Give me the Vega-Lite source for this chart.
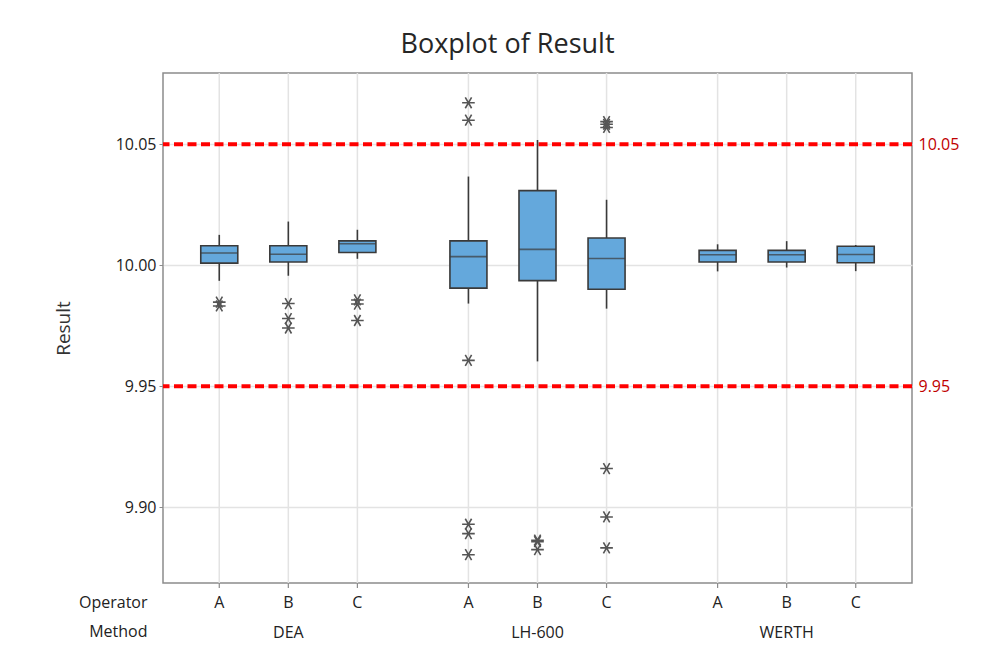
{
  "$schema": "https://vega.github.io/schema/vega-lite/v6.json",
  "width": 749,
  "height": 510,
  "autosize": {"type": "none"},
  "padding": {"left": 163, "top": 73, "right": 90, "bottom": 83},
  "background": "white",
  "title": {"text": "Boxplot of Result", "fontSize": 27, "fontWeight": "normal", "color": "#262626", "offset": 13, "dx": -30, "font": "Open Sans"},
  "datasets": {
    "boxes": [
      {"Method": "DEA", "Operator": "A", "lower": 9.9936, "q1": 10.0009, "median": 10.0051, "q3": 10.0081, "upper": 10.0126},
      {"Method": "DEA", "Operator": "B", "lower": 9.9957, "q1": 10.0014, "median": 10.0046, "q3": 10.0081, "upper": 10.0181},
      {"Method": "DEA", "Operator": "C", "lower": 10.0027, "q1": 10.0053, "median": 10.0089, "q3": 10.0101, "upper": 10.0147},
      {"Method": "LH-600", "Operator": "A", "lower": 9.9842, "q1": 9.9906, "median": 10.0036, "q3": 10.0101, "upper": 10.0367},
      {"Method": "LH-600", "Operator": "B", "lower": 9.9603, "q1": 9.9937, "median": 10.0066, "q3": 10.0309, "upper": 10.0518},
      {"Method": "LH-600", "Operator": "C", "lower": 9.9821, "q1": 9.9901, "median": 10.0028, "q3": 10.0113, "upper": 10.0271},
      {"Method": "WERTH", "Operator": "A", "lower": 9.9975, "q1": 10.0014, "median": 10.0044, "q3": 10.0062, "upper": 10.0087},
      {"Method": "WERTH", "Operator": "B", "lower": 9.9991, "q1": 10.0014, "median": 10.0044, "q3": 10.0062, "upper": 10.0100},
      {"Method": "WERTH", "Operator": "C", "lower": 9.9976, "q1": 10.0011, "median": 10.0045, "q3": 10.0079, "upper": 10.0084}
    ],
    "outliers": [
      {"Method": "DEA", "Operator": "A", "Result": 9.9848},
      {"Method": "DEA", "Operator": "A", "Result": 9.9832},
      {"Method": "DEA", "Operator": "B", "Result": 9.9842},
      {"Method": "DEA", "Operator": "B", "Result": 9.9780},
      {"Method": "DEA", "Operator": "B", "Result": 9.9741},
      {"Method": "DEA", "Operator": "C", "Result": 9.9857},
      {"Method": "DEA", "Operator": "C", "Result": 9.9840},
      {"Method": "DEA", "Operator": "C", "Result": 9.9772},
      {"Method": "LH-600", "Operator": "A", "Result": 10.0672},
      {"Method": "LH-600", "Operator": "A", "Result": 10.0600},
      {"Method": "LH-600", "Operator": "A", "Result": 9.9607},
      {"Method": "LH-600", "Operator": "A", "Result": 9.8930},
      {"Method": "LH-600", "Operator": "A", "Result": 9.8891},
      {"Method": "LH-600", "Operator": "A", "Result": 9.8804},
      {"Method": "LH-600", "Operator": "B", "Result": 9.8864},
      {"Method": "LH-600", "Operator": "B", "Result": 9.8858},
      {"Method": "LH-600", "Operator": "B", "Result": 9.8825},
      {"Method": "LH-600", "Operator": "C", "Result": 10.0594},
      {"Method": "LH-600", "Operator": "C", "Result": 10.0583},
      {"Method": "LH-600", "Operator": "C", "Result": 10.0570},
      {"Method": "LH-600", "Operator": "C", "Result": 9.9160},
      {"Method": "LH-600", "Operator": "C", "Result": 9.8960},
      {"Method": "LH-600", "Operator": "C", "Result": 9.8832}
    ],
    "limits": [
      {"limit": 9.95},
      {"limit": 10.05}
    ]
  },
  "layer": [
    {
      "data": {"name": "boxes"},
      "mark": {"type": "rule", "color": "#e3e3e3", "strokeWidth": 1.5},
      "encoding": {
        "x": {"field": "Method", "type": "nominal", "sort": ["DEA", "LH-600", "WERTH"],
          "scale": {"paddingInner": 0, "paddingOuter": 0.003},
          "axis": {"title": ["Operator", "Method"], "labelAngle": 0, "labelFontSize": 16, "labelColor": "#222222", "labelPadding": 41, "ticks": false, "domain": false, "grid": false,
            "titleFontSize": 16, "titleFontWeight": "normal", "titleColor": "#222222", "titleX": -16, "titleY": 11, "titleAlign": "right", "titleBaseline": "top", "titleLineHeight": 29, "titleAngle": 0}},
        "xOffset": {"field": "Operator", "type": "nominal", "sort": ["A", "B", "C"], "scale": {"paddingInner": 0.464, "paddingOuter": 0.536}}
      }
    },
    {
      "data": {"name": "limits"},
      "mark": {"type": "rule", "color": "#ff0000", "strokeWidth": 4, "strokeDash": [9, 4.5]},
      "encoding": {
        "y": {"field": "limit", "type": "quantitative",
          "scale": {"domain": [9.8687, 10.0795], "nice": false, "zero": false},
          "axis": {"orient": "right", "values": [9.95, 10.05], "format": ".2f", "labelColor": "#c00000", "labelFontSize": 16, "ticks": false, "domain": false, "grid": false, "labelPadding": 6, "title": null}}
      }
    },
    {
      "layer": [
        {
          "data": {"name": "boxes"},
          "mark": {"type": "rule", "color": "#8c8c8c", "strokeWidth": 1.2, "y2Offset": 5},
          "encoding": {
            "x": {"field": "Method", "type": "nominal", "sort": ["DEA", "LH-600", "WERTH"]},
            "xOffset": {"field": "Operator", "type": "nominal", "sort": ["A", "B", "C"]},
            "y": {"value": "height"},
            "y2": {"value": "height"}
          }
        },
        {
          "data": {"name": "boxes"},
          "mark": {"type": "rule", "color": "#3a3a3a", "strokeWidth": 1.6},
          "encoding": {
            "x": {"field": "Method", "type": "nominal", "sort": ["DEA", "LH-600", "WERTH"]},
            "xOffset": {"field": "Operator", "type": "nominal", "sort": ["A", "B", "C"]},
            "y": {"field": "lower", "type": "quantitative", "title": "Result",
              "scale": {"domain": [9.8687, 10.0795], "nice": false, "zero": false},
              "axis": {"values": [9.90, 9.95, 10.00, 10.05], "format": ".2f", "labelFontSize": 16, "labelColor": "#222222", "tickColor": "#8c8c8c", "tickSize": 4, "labelPadding": 3, "domain": false, "grid": true, "gridColor": "#e3e3e3", "gridWidth": 1.5,
                "title": "Result", "titleFontSize": 19, "titleFontWeight": "normal", "titleColor": "#333333", "titlePadding": 42}},
            "y2": {"field": "upper"}
          }
        },
        {
          "data": {"name": "boxes"},
          "mark": {"type": "bar", "fill": "#64a8dc", "stroke": "#3a3a3a", "strokeWidth": 1.6},
          "encoding": {
            "x": {"field": "Method", "type": "nominal", "sort": ["DEA", "LH-600", "WERTH"]},
            "xOffset": {"field": "Operator", "type": "nominal", "sort": ["A", "B", "C"]},
            "y": {"field": "q1", "type": "quantitative", "title": "Result"},
            "y2": {"field": "q3"}
          }
        },
        {
          "data": {"name": "boxes"},
          "mark": {"type": "tick", "color": "#3a3a3a", "thickness": 1.6, "size": 37},
          "encoding": {
            "x": {"field": "Method", "type": "nominal", "sort": ["DEA", "LH-600", "WERTH"]},
            "xOffset": {"field": "Operator", "type": "nominal", "sort": ["A", "B", "C"]},
            "y": {"field": "median", "type": "quantitative", "title": "Result"}
          }
        },
        {
          "data": {"name": "outliers"},
          "mark": {"type": "point", "shape": "M-1,0L1,0M-0.5,-0.866L0.5,0.866M-0.5,0.866L0.5,-0.866", "filled": false, "stroke": "#555555", "strokeWidth": 1.6, "size": 160, "opacity": 1},
          "encoding": {
            "x": {"field": "Method", "type": "nominal", "sort": ["DEA", "LH-600", "WERTH"]},
            "xOffset": {"field": "Operator", "type": "nominal", "sort": ["A", "B", "C"]},
            "y": {"field": "Result", "type": "quantitative", "title": "Result"}
          }
        },
        {
          "data": {"name": "boxes"},
          "mark": {"type": "text", "fontSize": 16, "color": "#222222", "baseline": "middle", "dy": 20},
          "encoding": {
            "x": {"field": "Method", "type": "nominal", "sort": ["DEA", "LH-600", "WERTH"]},
            "xOffset": {"field": "Operator", "type": "nominal", "sort": ["A", "B", "C"]},
            "y": {"value": "height"},
            "text": {"field": "Operator"}
          }
        }
      ]
    }
  ],
  "resolve": {"axis": {"y": "independent"}},
  "config": {
    "font": "Open Sans",
    "view": {"stroke": "#8c8c8c", "strokeWidth": 1.5},
    "axis": {"labelFont": "Open Sans", "titleFont": "Open Sans"}
  }
}
